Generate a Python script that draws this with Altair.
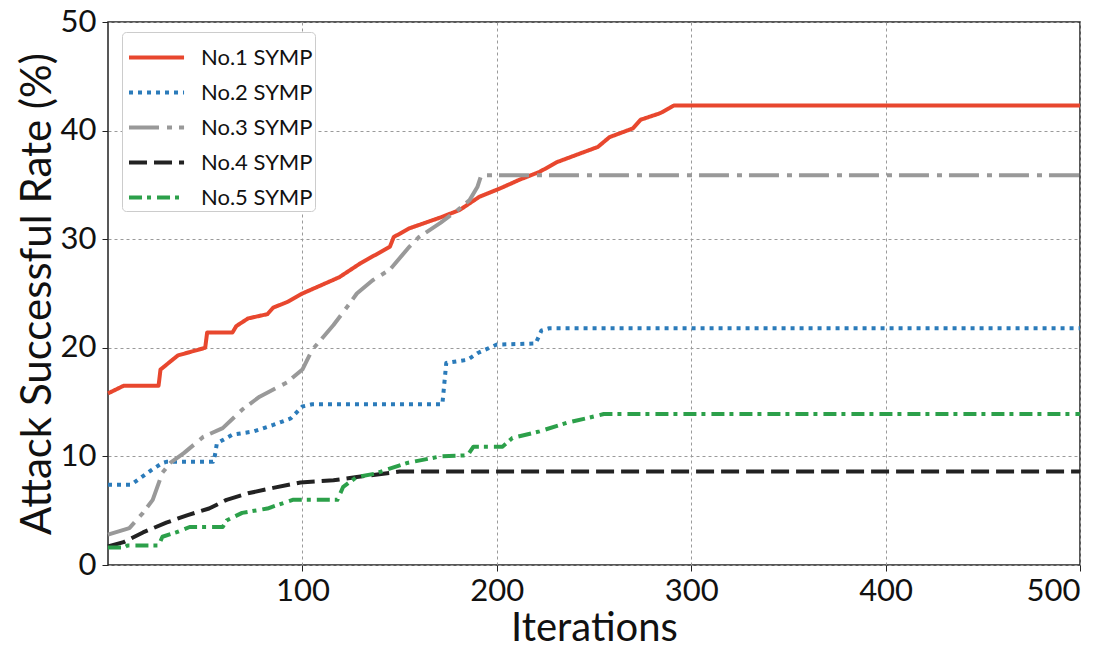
import altair as alt
import pandas as pd

series_names = ["No.1 SYMP", "No.2 SYMP", "No.3 SYMP", "No.4 SYMP", "No.5 SYMP"]
series_colors = ["#E8472E", "#2B7BBA", "#999999", "#222222", "#2CA04A"]
series_dashes = [[1, 0], [4, 5], [30, 8, 5, 7], [18, 7], [13, 5, 4, 6]]

s1_x = [0, 8, 26, 27, 36, 42, 50, 51, 64, 66, 72, 82, 85, 92, 100, 119, 130, 145, 147,
        155, 171, 181, 191, 202, 212, 222, 231, 243, 252, 258, 270, 274, 284, 291, 500]
s1_y = [15.8, 16.5, 16.5, 18.0, 19.3, 19.6, 20.0, 21.4, 21.4, 22.0, 22.7, 23.1, 23.7, 24.2,
        25.0, 26.5, 27.8, 29.3, 30.2, 31.0, 32.0, 32.7, 33.9, 34.7, 35.5, 36.2, 37.1, 37.9,
        38.5, 39.4, 40.2, 41.0, 41.6, 42.3, 42.3]

s2_x = [0, 12, 15, 22, 28, 30, 54, 55, 56, 64, 75, 85, 94, 100, 105, 172, 174, 185, 190,
        200, 220, 223, 227, 500]
s2_y = [7.4, 7.4, 7.8, 8.7, 9.4, 9.5, 9.5, 10.1, 11.2, 12.0, 12.3, 12.9, 13.5, 14.6, 14.8,
        14.8, 18.6, 18.9, 19.5, 20.3, 20.4, 21.6, 21.8, 21.8]

s3_x = [0, 11, 18, 23, 28, 32, 39, 49, 59, 69, 78, 92, 100, 105, 116, 124, 128, 136, 145,
        155, 160, 171, 180, 186, 190, 192, 500]
s3_y = [2.8, 3.4, 4.8, 6.0, 8.5, 9.4, 10.3, 11.8, 12.6, 14.3, 15.5, 16.8, 18.0, 19.8, 22.1,
        24.0, 25.0, 26.2, 27.2, 29.3, 30.2, 31.5, 32.7, 33.6, 34.8, 35.9, 35.9]

s4_x = [0, 8, 18, 30, 41, 52, 61, 72, 85, 99, 116, 128, 150, 500]
s4_y = [1.7, 2.1, 3.0, 3.9, 4.6, 5.2, 6.0, 6.6, 7.1, 7.6, 7.8, 8.1, 8.6, 8.6]

s5_x = [0, 8, 10, 26, 28, 35, 42, 59, 61, 69, 82, 95, 102, 118, 121, 128, 137, 154, 171,
        185, 188, 203, 208, 222, 236, 246, 255, 500]
s5_y = [1.6, 1.6, 1.8, 1.8, 2.6, 3.0, 3.5, 3.5, 4.1, 4.8, 5.2, 6.0, 6.0, 6.0, 7.2, 8.1, 8.4,
        9.4, 10.0, 10.1, 10.9, 10.9, 11.7, 12.3, 13.1, 13.5, 13.9, 13.9]

x_ticks = [100, 200, 300, 400, 500]
y_ticks = [0, 10, 20, 30, 40, 50]

rows = []
for name, xs, ys in zip(series_names, [s1_x, s2_x, s3_x, s4_x, s5_x],
                        [s1_y, s2_y, s3_y, s4_y, s5_y]):
    for i, (a, b) in enumerate(zip(xs, ys)):
        rows.append({"series": name, "iter": a, "rate": b, "order": i})
df = pd.DataFrame(rows)

FONT = "Lato"

chart = alt.Chart(df).mark_line(strokeWidth=4, strokeCap="butt", strokeJoin="round").encode(
    x=alt.X("iter:Q", title="Iterations",
            scale=alt.Scale(domain=[0, 500], nice=False),
            axis=alt.Axis(values=x_ticks, grid=True, titleFontSize=40, titlePadding=2)),
    y=alt.Y("rate:Q", title="Attack Successful Rate (%)",
            scale=alt.Scale(domain=[0, 50], nice=False),
            axis=alt.Axis(values=y_ticks, grid=True, titleFontSize=42, titlePadding=1)),
    color=alt.Color("series:N", title=None,
                    scale=alt.Scale(domain=series_names, range=series_colors),
                    legend=alt.Legend(orient="none", legendX=14, legendY=10)),
    strokeDash=alt.StrokeDash("series:N", title=None,
                              scale=alt.Scale(domain=series_names, range=series_dashes),
                              legend=alt.Legend(orient="none", legendX=14, legendY=10)),
    order="order:Q",
).properties(
    width=972, height=543,
    autosize=alt.AutoSizeParams(type="none"),
    padding={"left": 108, "top": 22, "right": 32, "bottom": 83},
).configure_view(
    stroke="#222222", strokeWidth=1.5
).configure_axis(
    domain=False,
    labelFont=FONT, titleFont=FONT,
    labelFontSize=31,
    labelColor="#111111", titleColor="#111111",
    titleFontWeight="normal",
    tickColor="#222222", tickSize=6, tickWidth=1,
    gridColor="#9a9a9a", gridDash=[3, 3], gridWidth=1, gridOpacity=1,
).configure_axisX(
    labelPadding=5,
).configure_axisY(
    labelPadding=6,
).configure_legend(
    labelFont=FONT, labelFontSize=22, labelColor="#111111",
    symbolType="M-0.86,0H1.7", symbolSize=1849, symbolStrokeWidth=4,
    symbolFillColor="transparent",
    strokeColor="#cccccc", fillColor="white", cornerRadius=4, padding=2,
    rowPadding=0, labelOffset=30,
)

chart.save("out.html", embed_options={"renderer": "svg", "actions": False})
